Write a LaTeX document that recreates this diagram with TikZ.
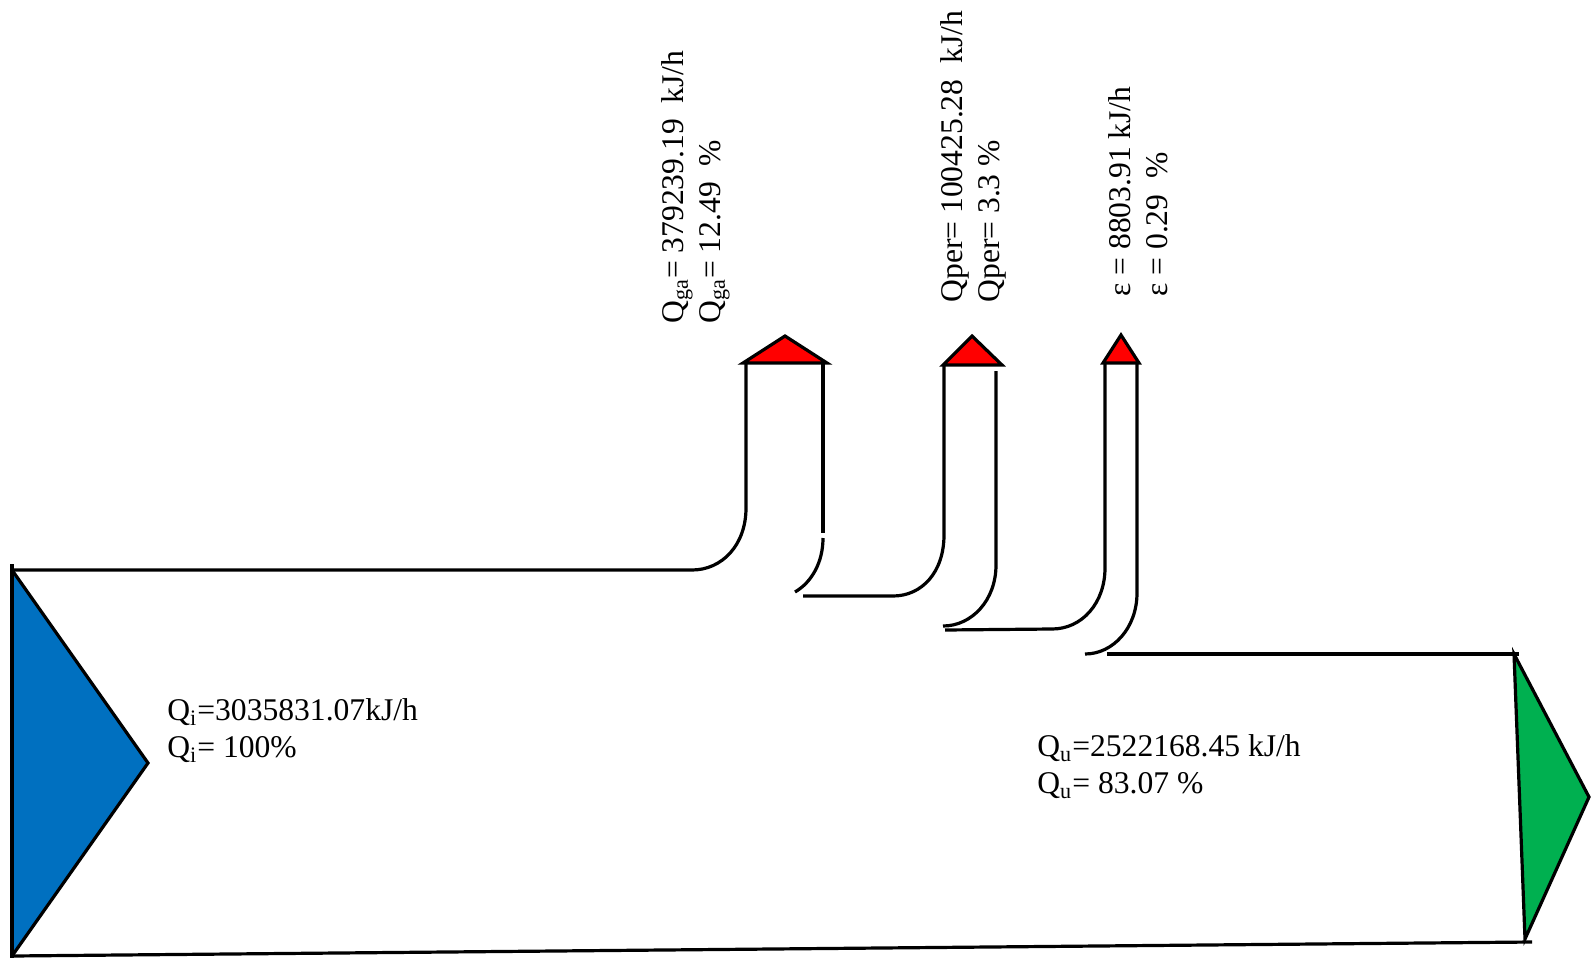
\documentclass[tikz,border=0pt]{standalone}
\usepackage{fontspec}
\setmainfont{Liberation Serif}
\definecolor{ink}{HTML}{000000}
\definecolor{inflow}{HTML}{0070C0}
\definecolor{outflow}{HTML}{00B050}
\definecolor{lossred}{HTML}{FF0000}

\begin{document}
\begin{tikzpicture}[
  x=0.5pt,y=-0.5pt,
  font=\fontsize{15.8}{18.5}\selectfont,
  flow/.style={line width=1.6pt,draw=ink},
  head/.style={flow,fill=lossred,line join=miter},
  qtext/.style={inner sep=0pt,align=left,text=ink},
  vtext/.style={qtext,rotate=90,anchor=south west}
]
\useasboundingbox (0,0) rectangle (1591,959);

% Input arrow
\fill[inflow] (12,570) -- (148,763) -- (12,956) -- cycle;
\draw[flow] (12,564) -- (12,958);
\draw[flow] (12,570) -- (148,763) -- (12,956);
\node[qtext,anchor=west] (qin) at (167,731)
  {Q\textsubscript{i}=3035831.07kJ/h\\Q\textsubscript{i}= 100\%};

% Main band edges
\draw[flow] (12,570) -- (692,570)
  .. controls (722,570) and (746,545) .. (746,508) -- (746,363);
\draw[flow] (12,956) -- (1532,942);

% Loss 1: Qga
\draw[head] (743,363) -- (785,336) -- (827,363) -- cycle;
\draw[flow] (823,363) -- (823,533);
\draw[flow] (823,538) .. controls (823,562) and (812,582) .. (795,592);
\draw[flow] (803,596) -- (893,596)
  .. controls (922,596) and (944,572) .. (944,535) -- (944,365);
\node[vtext] (qga) at (730,324)
  {Q\textsubscript{ga}= 379239.19\ \ kJ/h\\Q\textsubscript{ga}= 12.49\ \ \%};

% Loss 2: Qper
\draw[head] (943,365) -- (972,336) -- (1002,365) -- cycle;
\draw[flow] (996,371) -- (996,565)
  .. controls (996,600) and (972,626) .. (943,626);
\draw[flow] (945,630) -- (1052,629)
  .. controls (1082,629) and (1105,603) .. (1105,568) -- (1105,363);
\node[vtext] (qper) at (1007,303)
  {Qper= 100425.28\ \ kJ/h\\Qper= 3.3 \%};

% Loss 3: epsilon
\draw[head] (1103,363) -- (1121,335) -- (1139,363) -- cycle;
\draw[flow] (1137,363) -- (1137,593)
  .. controls (1137,628) and (1113,654) .. (1085,654);
\draw[flow] (1107,654) -- (1519,654);
\node[vtext] (eps) at (1168,297)
  {ε = 8803.91 kJ/h\\ε = 0.29\ \ \%};

% Useful output arrow
\draw[flow,fill=outflow] (1514,654) -- (1589,797) -- (1525,939) -- cycle;
\node[qtext,anchor=west] (qout) at (1037,767)
  {Q\textsubscript{u}=2522168.45 kJ/h\\Q\textsubscript{u}= 83.07 \%};

\end{tikzpicture}
\end{document}
